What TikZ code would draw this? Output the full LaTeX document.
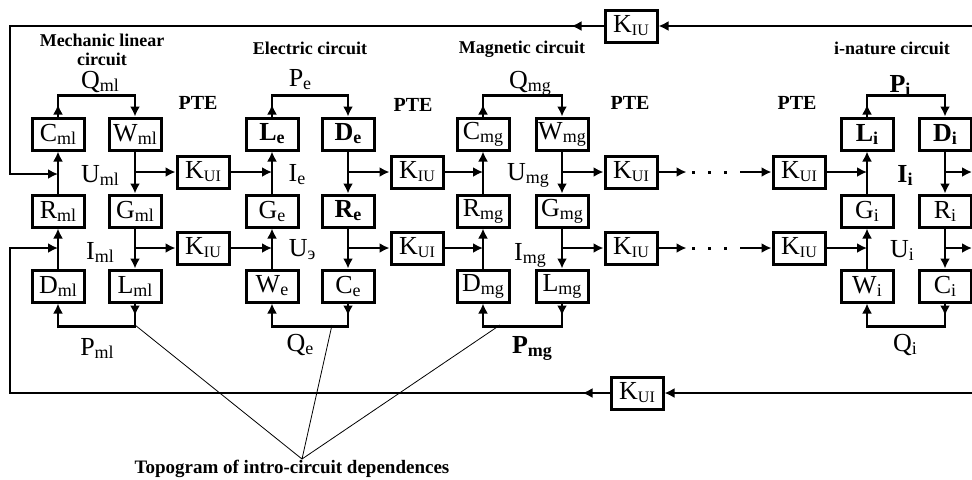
\documentclass[tikz,border=0pt]{standalone}
\usepackage{fontspec}
\setmainfont{Liberation Serif}
\usetikzlibrary{arrows.meta}

\newcommand{\sbs}[2]{#1\raisebox{-1.5pt}{\fontsize{9}{9}\selectfont #2}}
\newcommand{\kk}[1]{K\raisebox{-1.5pt}{\fontsize{8}{8}\selectfont #1}}

\tikzset{
	blk/.style={draw, line width=1.5pt, minimum width=26pt, minimum height=16pt, inner sep=0pt, font=\fontsize{13}{13}\selectfont},
	lbl/.style={inner sep=0pt, font=\fontsize{13}{13}\selectfont},
	ttl/.style={inner sep=0pt, align=center, font=\fontsize{9}{9.5}\selectfont\bfseries},
	pte/.style={inner sep=0pt, font=\fontsize{10}{10}\selectfont\bfseries},
	ln/.style={line width=1.2pt},
	fb/.style={line width=1.2pt},
	thinln/.style={line width=0.4pt},
	arw/.style={-{Latex[length=5pt,width=5pt]}},
}

\begin{document}
\begin{tikzpicture}[x=0.5pt,y=-0.5pt]
	\useasboundingbox (0,0) rectangle (972,479);
	% mechanic linear circuit
	\node[blk] (mC) at (58,134) {\sbs{C}{ml}};
	\node[blk] (mW) at (135,134) {\sbs{W}{ml}};
	\node[blk] (mR) at (58,211) {\sbs{R}{ml}};
	\node[blk] (mG) at (135,211) {\sbs{G}{ml}};
	\node[blk] (mD) at (58,286) {\sbs{D}{ml}};
	\node[blk] (mL) at (135,286) {\sbs{L}{ml}};
	\node[ttl] (mT) at (102,50) {Mechanic linear\\circuit};
	\node[lbl] (mQ) at (100,82) {\sbs{Q}{ml}};
	\node[lbl] (mU) at (100,175) {\sbs{U}{ml}};
	\node[lbl] (mI) at (100,252) {\sbs{I}{ml}};
	\node[lbl] (mP) at (97,348) {\sbs{P}{ml}};
	\draw[ln,arw] (mC.north) -- ++(0,-12);
	\draw[ln,arw] (mC.north) -- ++(0,-21) -| (mW.north);
	\draw[ln,arw] (mR.north) -- (mC.south);
	\draw[ln,arw] (mD.north) -- (mR.south);
	\draw[ln,arw] (mW.south) -- (mG.north);
	\draw[ln,arw] (mG.south) -- (mL.north);
	\draw[ln,arw] (mL.south) -- ++(0,12);
	\draw[ln,arw] (mL.south) -- ++(0,23) -| (mD.south);

	% electric circuit
	\node[blk] (eL) at (272,134) {\bfseries\sbs{L}{e}};
	\node[blk] (eD) at (348,134) {\bfseries\sbs{D}{e}};
	\node[blk] (eG) at (272,211) {\sbs{G}{e}};
	\node[blk] (eR) at (348,211) {\bfseries\sbs{R}{e}};
	\node[blk] (eW) at (272,286) {\sbs{W}{e}};
	\node[blk] (eC) at (348,286) {\sbs{C}{e}};
	\node[ttl] (eT) at (310,48) {Electric circuit};
	\node[lbl] (eP) at (300,80) {\sbs{P}{e}};
	\node[lbl] (eI) at (297,175) {\sbs{I}{e}};
	\node[lbl] (eU) at (302,250) {\sbs{U}{э}};
	\node[lbl] (eQ) at (300,345) {\sbs{Q}{e}};
	\draw[ln,arw] (eL.north) -- ++(0,-12);
	\draw[ln,arw] (eL.north) -- ++(0,-21) -| (eD.north);
	\draw[ln,arw] (eG.north) -- (eL.south);
	\draw[ln,arw] (eW.north) -- (eG.south);
	\draw[ln,arw] (eD.south) -- (eR.north);
	\draw[ln,arw] (eR.south) -- (eC.north);
	\draw[ln,arw] (eC.south) -- ++(0,12);
	\draw[ln,arw] (eC.south) -- ++(0,23) -| (eW.south);

	% magnetic circuit
	\node[blk] (gC) at (483,134) {\sbs{C}{mg}};
	\node[blk] (gW) at (562,134) {\sbs{W}{mg}};
	\node[blk] (gR) at (483,211) {\sbs{R}{mg}};
	\node[blk] (gG) at (562,211) {\sbs{G}{mg}};
	\node[blk] (gD) at (483,286) {\sbs{D}{mg}};
	\node[blk] (gL) at (562,286) {\sbs{L}{mg}};
	\node[ttl] (gT) at (522,49) {Magnetic circuit};
	\node[lbl] (gQ) at (530,83) {\sbs{Q}{mg}};
	\node[lbl] (gU) at (528,175) {\sbs{U}{mg}};
	\node[lbl] (gI) at (530,255) {\sbs{I}{mg}};
	\node[lbl] (gP) at (532,348) {\bfseries\sbs{P}{mg}};
	\draw[ln,arw] (gC.north) -- ++(0,-12);
	\draw[ln,arw] (gC.north) -- ++(0,-21) -| (gW.north);
	\draw[ln,arw] (gR.north) -- (gC.south);
	\draw[ln,arw] (gD.north) -- (gR.south);
	\draw[ln,arw] (gW.south) -- (gG.north);
	\draw[ln,arw] (gG.south) -- (gL.north);
	\draw[ln,arw] (gL.south) -- ++(0,12);
	\draw[ln,arw] (gL.south) -- ++(0,23) -| (gD.south);

	% i-nature circuit
	\node[blk] (iL) at (867,134) {\bfseries\sbs{L}{i}};
	\node[blk] (iD) at (945,134) {\bfseries\sbs{D}{i}};
	\node[blk] (iG) at (867,211) {\sbs{G}{i}};
	\node[blk] (iR) at (945,211) {\sbs{R}{i}};
	\node[blk] (iW) at (867,286) {\sbs{W}{i}};
	\node[blk] (iC) at (945,286) {\sbs{C}{i}};
	\node[ttl] (iT) at (892,48) {i-nature circuit};
	\node[lbl] (iP) at (900,85) {\bfseries\sbs{P}{i}};
	\node[lbl] (iI) at (905,175) {\bfseries\sbs{I}{i}};
	\node[lbl] (iU) at (902,250) {\sbs{U}{i}};
	\node[lbl] (iQ) at (905,345) {\sbs{Q}{i}};
	\draw[ln,arw] (iL.north) -- ++(0,-12);
	\draw[ln,arw] (iL.north) -- ++(0,-21) -| (iD.north);
	\draw[ln,arw] (iG.north) -- (iL.south);
	\draw[ln,arw] (iW.north) -- (iG.south);
	\draw[ln,arw] (iD.south) -- (iR.north);
	\draw[ln,arw] (iR.south) -- (iC.north);
	\draw[ln,arw] (iC.south) -- ++(0,12);
	\draw[ln,arw] (iC.south) -- ++(0,23) -| (iW.south);

	\node[pte] (pte1) at (198,103) {PTE};
	\node[pte] (pte2) at (413,105) {PTE};
	\node[pte] (pte3) at (630,103) {PTE};
	\node[pte] (pte4) at (797,103) {PTE};

	% couplings between circuits
	\node[blk] (k1) at (203,172) {\kk{UI}};
	\node[blk] (k2) at (203,248) {\kk{IU}};
	\node[blk] (k3) at (417,172) {\kk{IU}};
	\node[blk] (k4) at (417,248) {\kk{UI}};
	\node[blk] (k5) at (631,172) {\kk{UI}};
	\node[blk] (k6) at (631,248) {\kk{IU}};
	\node[blk] (k7) at (799,172) {\kk{UI}};
	\node[blk] (k8) at (799,248) {\kk{IU}};
	\draw[ln,arw] (mW |- k1) -- (k1.west);
	\draw[ln,arw] (k1.east) -- (eL |- k1);
	\draw[ln,arw] (mG |- k2) -- (k2.west);
	\draw[ln,arw] (k2.east) -- (eG |- k2);
	\draw[ln,arw] (eD |- k3) -- (k3.west);
	\draw[ln,arw] (k3.east) -- (gC |- k3);
	\draw[ln,arw] (eR |- k4) -- (k4.west);
	\draw[ln,arw] (k4.east) -- (gR |- k4);
	\draw[ln,arw] (gW |- k5) -- (k5.west);
	\draw[ln,arw] (k5.east) -- ++(28,0);
	\draw[ln,arw] (gG |- k6) -- (k6.west);
	\draw[ln,arw] (k6.east) -- ++(28,0);
	\foreach \x in {693,709,725} {
		\fill (\x-1.5,170.5) rectangle ++(3,3);
		\fill (\x-1.5,246.5) rectangle ++(3,3);
	}
	\coordinate (c7) at (740,172);
	\coordinate (c8) at (740,248);
	\draw[ln,arw] (c7) -- (k7.west);
	\draw[ln,arw] (c8) -- (k8.west);
	\draw[ln,arw] (k7.east) -- (iL |- k7);
	\draw[ln,arw] (k8.east) -- (iG |- k8);
	\coordinate (o7) at (972,172);
	\coordinate (o8) at (972,248);
	\draw[ln,arw] (iD |- k7) -- (o7);
	\draw[ln,arw] (iR |- k8) -- (o8);

	% feedback lines
	\node[blk] (kt) at (631,26) {\kk{IU}};
	\node[blk] (kb) at (637,393) {\kk{UI}};
	\coordinate (tR) at (972,26);
	\coordinate (tL) at (10,26);
	\coordinate (mIn1) at (58,174);
	\coordinate (bR) at (972,393);
	\coordinate (bL) at (10,393);
	\coordinate (mIn2) at (58,248);
	\draw[fb,arw] (tR) -- (kt.east);
	\draw[fb,arw] (kt.west) -- ++(-32,0);
	\draw[fb,arw] (kt.west) -- (tL) |- (mIn1);
	\draw[fb,arw] (bR) -- (kb.east);
	\draw[fb,arw] (kb.west) -- ++(-27,0);
	\draw[fb,arw] (kb.west) -- (bL) |- (mIn2);

	% topogram
	\node[ttl,font=\fontsize{9.5}{10}\selectfont\bfseries] (topo) at (292,469) {Topogram of intro-circuit dependences};
	\coordinate (apex) at (302,459);
	\coordinate (mB) at (135,325);
	\coordinate (eB) at (332,325);
	\coordinate (gB) at (500,325);
	\draw[thinln] (mB) -- (apex) -- (eB) (apex) -- (gB);
\end{tikzpicture}
\end{document}
